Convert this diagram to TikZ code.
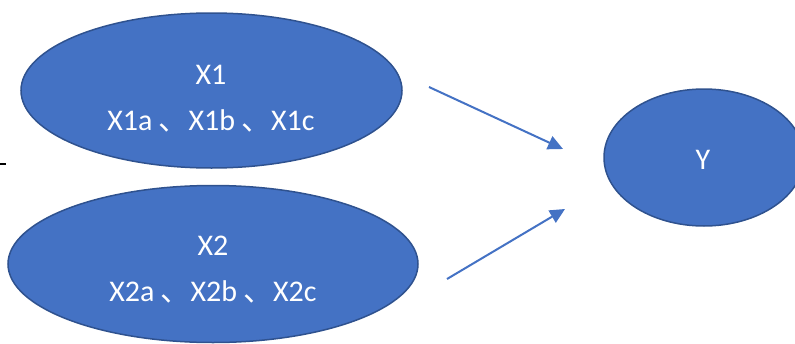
\documentclass[tikz,border=0pt]{standalone}
\usepackage{fontspec}
\setmainfont{Carlito}
\newfontfamily\cjk{Noto Sans CJK SC}
\usetikzlibrary{arrows.meta,shapes.geometric}
\definecolor{fillblue}{HTML}{4472C4}
\definecolor{edgeblue}{HTML}{2F528F}
\newcommand{\dun}{\hspace{6pt}{\cjk 、}}
\tikzset{
  oval/.style={ellipse, draw=edgeblue, line width=1.5pt, fill=fillblue, inner sep=0pt},
  lbl/.style={text=white, align=center, font=\fontsize{30}{46}\selectfont},
  link/.style={draw=fillblue, line width=2pt, -{Triangle[length=15pt,width=14pt]}}
}
\begin{document}
\begin{tikzpicture}[x=1pt,y=-1pt]
  \clip (0,0) rectangle (795,343);
  % ovals
  \node[oval, minimum width=381pt, minimum height=155pt] (x1) at (211.5,90.5) {};
  \node[oval, minimum width=410pt, minimum height=157pt] (x2) at (213,264) {};
  \node[oval, minimum width=200pt, minimum height=137pt] (y) at (704,157.5) {};
  % texts
  \node[lbl] (t1) at (211,99) {X1\\X1a\dun X1b\dun X1c};
  \node[lbl] (t2) at (213,270) {X2\\X2a\dun X2b\dun X2c};
  \node[lbl] (ty) at (703,160) {Y};
  % arrows
  \coordinate (a1s) at (429,87);
  \coordinate (a1e) at (563,149);
  \coordinate (a2s) at (447,279);
  \coordinate (a2e) at (565,209);
  \draw[link] (a1s) -- (a1e);
  \draw[link] (a2s) -- (a2e);
  % stray dash at the left edge
  \coordinate (d1) at (0,163.5);
  \coordinate (d2) at (6,163.5);
  \draw[line width=2pt] (d1) -- (d2);
\end{tikzpicture}
\end{document}
